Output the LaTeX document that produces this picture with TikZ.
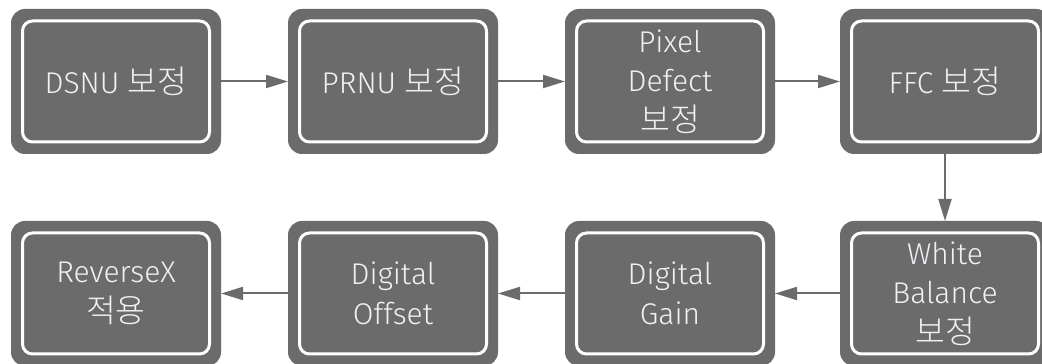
\documentclass[tikz,border=0pt]{standalone}
\usepackage{fontspec}
\setmainfont{Fira Sans Light}
\newfontfamily\kr[Scale=1.08]{Noto Sans CJK KR Light}
\usetikzlibrary{arrows.meta}
\definecolor{boxgray}{HTML}{6B6B6B}
\definecolor{labelwhite}{HTML}{EEF2F6}
\tikzset{
  frame/.style={draw=none, fill=boxgray, rounded corners=14pt,
    minimum width=210pt, minimum height=145pt, inner sep=0pt, outer sep=0pt},
  stage/.style={draw=white, line width=3pt, fill=boxgray, rounded corners=10pt,
    minimum width=187pt, minimum height=121pt, inner sep=0pt,
    text=labelwhite, align=center, font=\fontsize{30pt}{39.5pt}\selectfont},
  flow/.style={draw=boxgray, line width=2pt,
    -{Triangle[length=22pt, width=13pt]}}
}
\begin{document}
\begin{tikzpicture}[x=1pt, y=1pt]
  \useasboundingbox (0,0) rectangle (1042,364);
  % top row
  \node[frame] (d1) at (116,282.5) {};
  \node[stage] (d1t) at (d1.center) {DSNU {\kr 보정}};
  \node[frame] (d2) at (393,282.5) {};
  \node[stage] (d2t) at (d2.center) {PRNU {\kr 보정}};
  \node[frame] (d3) at (670,282.5) {};
  \node[stage] (d3t) at (d3.center) {Pixel\\Defect\\{\kr 보정}};
  \node[frame] (d4) at (945,282.5) {};
  \node[stage] (d4t) at (d4.center) {FFC {\kr 보정}};
  % bottom row
  \node[frame] (d5) at (945,70.5) {};
  \node[stage] (d5t) at (d5.center) {White\\Balance\\{\kr 보정}};
  \node[frame] (d6) at (670,70.5) {};
  \node[stage] (d6t) at (d6.center) {Digital\\Gain};
  \node[frame] (d7) at (393,70.5) {};
  \node[stage] (d7t) at (d7.center) {Digital\\Offset};
  \node[frame] (d8) at (116,70.5) {};
  \node[stage] (d8t) at (d8.center) {ReverseX\\{\kr 적용}};
  % connectors
  \draw[flow] (d1.east) -- (d2.west);
  \draw[flow] (d2.east) -- (d3.west);
  \draw[flow] (d3.east) -- (d4.west);
  \draw[flow] (d4.south) -- (d5.north);
  \draw[flow] (d5.west) -- (d6.east);
  \draw[flow] (d6.west) -- (d7.east);
  \draw[flow] (d7.west) -- (d8.east);
\end{tikzpicture}
\end{document}
